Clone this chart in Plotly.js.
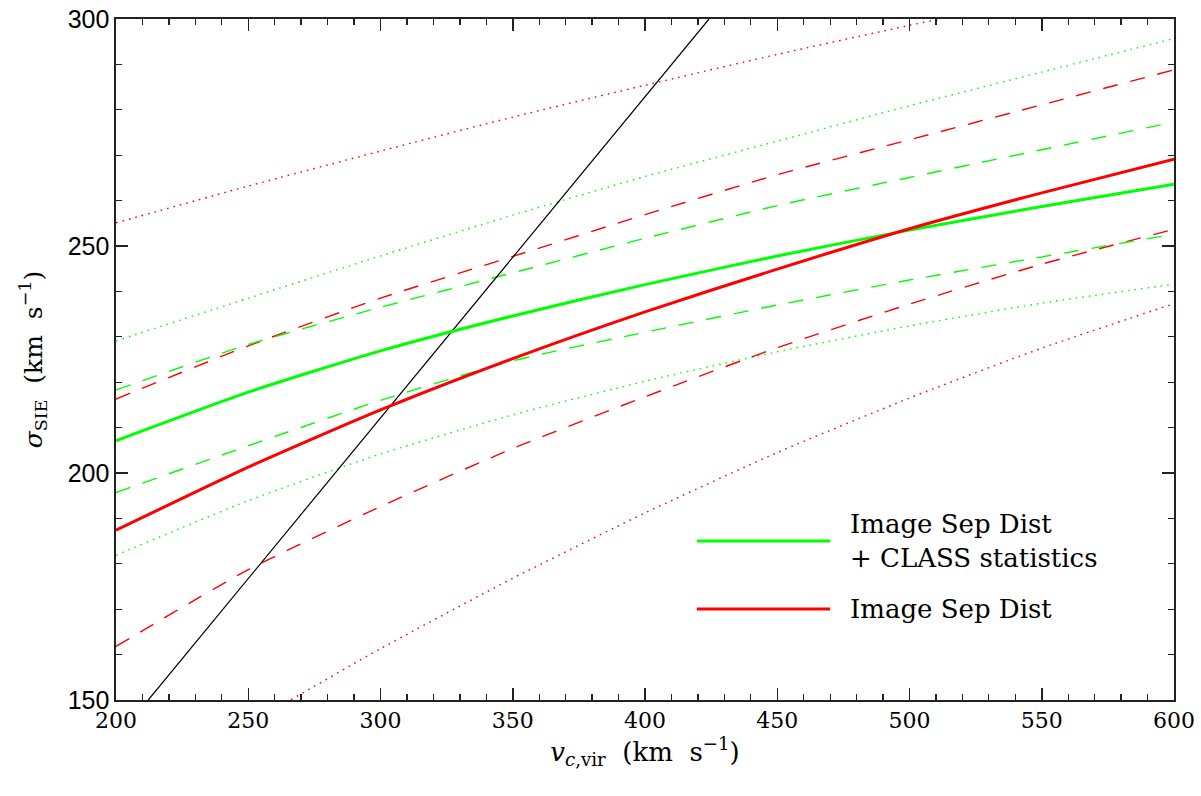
<!DOCTYPE html>
<html>
<head>
<meta charset="utf-8">
<script src="https://cdn.plot.ly/plotly-3.0.1.min.js"></script>
<style>html,body{margin:0;padding:0;background:#fff;}#chart{width:1201px;height:796px;}</style>
</head>
<body>
<div id="chart"></div>
<script>
// v_c,vir grid (km/s)
const vGrid = [200, 250, 300, 350, 400, 450, 500, 550, 600];

// Image Sep Dist + CLASS statistics (green)
const greenBest    = [207.1, 217.8, 226.9, 234.6, 241.5, 247.8, 253.5, 258.7, 263.6];
const greenDashHi  = [218.3, 228.3, 236.5, 244.1, 251.7, 258.9, 265.1, 271.2, 277.3];
const greenDashLo  = [195.7, 206.0, 216.0, 224.7, 231.0, 237.0, 242.5, 247.6, 252.6];
const greenDotHi   = [229.1, 238.5, 247.8, 256.8, 265.3, 273.1, 280.9, 288.3, 295.7];
const greenDotLo   = [181.9, 193.9, 204.2, 212.8, 220.2, 226.7, 232.4, 237.4, 241.6];

// Image Sep Dist (red)
const redBest      = [187.4, 201.3, 213.9, 225.2, 235.5, 244.9, 253.8, 261.7, 269.1];
const redDashHi    = [216.3, 228.0, 238.5, 247.7, 256.9, 265.7, 273.4, 281.1, 288.8];
const redDashLo    = [161.8, 178.7, 192.6, 205.4, 216.8, 227.6, 237.2, 246.0, 253.7];
const redDotHi     = [255.1, 263.2, 270.9, 278.4, 285.4, 292.2, 298.6, 304.7, 310.4];
const redDotLo     = [126.8, 144.6, 161.3, 176.8, 191.2, 204.5, 216.5, 227.5, 237.3];

// sigma = v_c / sqrt(2) reference line (read endpoints)
const blackX = [212.2, 424.2];
const blackY = [150.0, 300.0];

const xTicks = [200, 250, 300, 350, 400, 450, 500, 550, 600];
const yTicks = [150, 200, 250, 300];
const legendLabels = ["Image Sep Dist<br>+ CLASS statistics", "Image Sep Dist"];

const GREEN = "#00ff00", RED = "#ff0000";
const DASH = "15px,13px", DOT = "1.6px,5px";

function tr(y, color, width, dash) {
  return {x: vGrid, y: y, type: "scatter", mode: "lines", showlegend: false,
          hoverinfo: "skip", line: {color: color, width: width, dash: dash, shape: "spline", smoothing: 0.6}};
}

const data = [
  tr(redDotHi, RED, 1.4, DOT),
  tr(redDotLo, RED, 1.4, DOT),
  tr(greenDotHi, GREEN, 1.4, DOT),
  tr(greenDotLo, GREEN, 1.4, DOT),
  tr(redDashHi, RED, 1.4, DASH),
  tr(redDashLo, RED, 1.4, DASH),
  tr(greenDashHi, GREEN, 1.4, DASH),
  tr(greenDashLo, GREEN, 1.4, DASH),
  {x: blackX, y: blackY, type: "scatter", mode: "lines", showlegend: false, hoverinfo: "skip",
   line: {color: "#000", width: 1.2}},
  tr(greenBest, GREEN, 3, "solid"),
  tr(redBest, RED, 3, "solid")
];

const serif = "DejaVu Serif, serif";
const sans = "Liberation Sans, Arial, sans-serif";

const layout = {
  width: 1201, height: 796,
  margin: {l: 116, r: 27, t: 19, b: 96},
  paper_bgcolor: "#fff", plot_bgcolor: "#fff",
  showlegend: false,
  xaxis: {
    range: [200, 600], tickvals: xTicks, ticktext: xTicks.map(String),
    ticks: "inside", ticklen: 12, tickwidth: 1.5, tickcolor: "#222",
    minor: {ticks: "inside", dtick: 10, ticklen: 6, tickwidth: 1.3, tickcolor: "#222", showgrid: false},
    showline: true, linecolor: "#222", linewidth: 1.6, mirror: "ticks",
    showgrid: false, zeroline: false,
    tickfont: {family: serif, size: 22, color: "#000"},
    title: {text: "<i>v</i><sub><i>c</i>,vir</sub>  (km  s<sup>−1</sup>)", font: {family: serif, size: 26, color: "#000"}, standoff: 8}
  },
  yaxis: {
    range: [150, 300], tickvals: yTicks, ticktext: yTicks.map(String),
    ticks: "inside", ticklen: 12, tickwidth: 1.5, tickcolor: "#222",
    minor: {ticks: "inside", dtick: 10, ticklen: 6, tickwidth: 1.3, tickcolor: "#222", showgrid: false},
    showline: true, linecolor: "#222", linewidth: 1.6, mirror: "ticks",
    showgrid: false, zeroline: false,
    tickfont: {family: sans, size: 25, color: "#000"},
    title: {text: "<i>σ</i><sub>SIE</sub>  (km  s<sup>−1</sup>)", font: {family: serif, size: 25, color: "#000"}, standoff: 18}
  },
  shapes: [
    {type: "line", xref: "paper", yref: "paper", x0: 0.549, x1: 0.675, y0: 0.2335, y1: 0.2335, line: {color: GREEN, width: 3}},
    {type: "line", xref: "paper", yref: "paper", x0: 0.549, x1: 0.675, y0: 0.1336, y1: 0.1336, line: {color: RED, width: 3}}
  ],
  annotations: [
    {xref: "paper", yref: "paper", x: 0.692, y: 0.2335, xanchor: "left", yanchor: "middle", align: "left",
     showarrow: false, text: legendLabels[0], font: {family: serif, size: 26, color: "#000"}},
    {xref: "paper", yref: "paper", x: 0.692, y: 0.1336, xanchor: "left", yanchor: "middle", align: "left",
     showarrow: false, text: legendLabels[1], font: {family: serif, size: 26, color: "#000"}}
  ]
};

Plotly.newPlot("chart", data, layout, {staticPlot: true, displayModeBar: false});
</script>
</body>
</html>
